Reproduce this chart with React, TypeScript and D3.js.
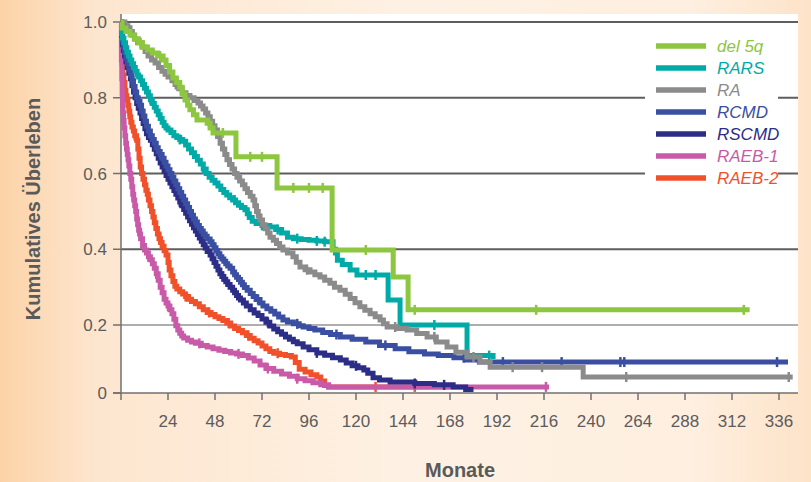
import { useEffect, useRef } from 'react';
import * as d3 from 'd3';

const WIDTH = 811;
const HEIGHT = 482;

const GROUPS = ['del 5q', 'RARS', 'RA', 'RCMD', 'RSCMD', 'RAEB-1', 'RAEB-2'];
const COLORS = ['#8dc63f', '#00aba7', '#8b8b8b', '#3a4fa2', '#2b2d87', '#c85aa8', '#f0512a'];

const X_TICKS = [0, 24, 48, 72, 96, 120, 144, 168, 192, 216, 240, 264, 288, 312, 336];
const Y_TICKS = [0, 0.2, 0.4, 0.6, 0.8, 1.0];
const Y_LABELS = ['0', '0.2', '0.4', '0.6', '0.8', '1.0'];

// Kaplan-Meier Stufen: [Monate, Überlebensanteil]; *_C = zensierte Zeitpunkte
const del5q = [[0, 1], [0.5, 0.984], [2.5, 0.975], [4.6, 0.966], [6.8, 0.955], [9, 0.945], [11, 0.934], [13.5, 0.926], [16, 0.918], [18.7, 0.91], [21.5, 0.9], [23, 0.885], [24.8, 0.868], [26.5, 0.852], [28.3, 0.84], [30, 0.828], [31.3, 0.81], [32.7, 0.794], [34, 0.78], [35.2, 0.768], [37, 0.755], [38.8, 0.741], [44, 0.733], [45.5, 0.72], [47, 0.707], [58.7, 0.644], [79.7, 0.562], [107.8, 0.398], [139, 0.327], [146.6, 0.24], [321, 0.24]];
const del5q_C = [10, 20, 45, 52, 66, 72, 88, 96, 103, 125, 150, 212, 318];

const rars = [[0, 1], [0.3, 0.97], [0.6, 0.958], [1.5, 0.945], [2.3, 0.932], [3, 0.92], [3.8, 0.91], [4.6, 0.9], [5.5, 0.89], [6.4, 0.88], [7.3, 0.87], [8.2, 0.86], [9, 0.855], [10, 0.845], [11, 0.835], [12, 0.825], [13, 0.815], [14, 0.805], [15, 0.795], [16, 0.785], [17, 0.775], [18, 0.765], [19, 0.755], [20, 0.745], [21, 0.735], [22, 0.726], [23, 0.72], [24, 0.715], [25.5, 0.708], [27, 0.7], [28.5, 0.695], [30, 0.69], [31.5, 0.685], [33, 0.675], [34.5, 0.665], [36, 0.655], [37.5, 0.645], [39, 0.635], [40.5, 0.625], [42, 0.612], [43.5, 0.6], [45, 0.59], [46.5, 0.582], [48, 0.575], [49.5, 0.567], [51, 0.558], [52.5, 0.55], [54, 0.543], [55.5, 0.536], [57, 0.53], [58.5, 0.523], [60, 0.516], [61.5, 0.51], [63.3, 0.504], [64.5, 0.494], [65.5, 0.484], [67, 0.474], [69, 0.468], [72, 0.463], [76, 0.459], [79, 0.452], [82, 0.443], [85, 0.432], [88, 0.428], [92, 0.426], [96, 0.424], [100, 0.422], [104, 0.42], [108.3, 0.4], [109.5, 0.39], [110.5, 0.371], [113, 0.36], [117, 0.345], [120.5, 0.332], [136.4, 0.266], [142.5, 0.2], [176.7, 0.11], [190, 0.1]];
const rars_C = [15, 30, 42, 58, 72, 80, 90, 100, 104, 125, 130, 160, 188];

const ra = [[0, 1], [2, 0.99], [3.5, 0.985], [4.6, 0.975], [5.8, 0.965], [7, 0.955], [8.5, 0.945], [10.7, 0.934], [12.3, 0.922], [13.8, 0.91], [15.6, 0.9], [17.4, 0.892], [19.2, 0.88], [20.9, 0.87], [22.5, 0.862], [24, 0.855], [26, 0.845], [27.6, 0.835], [29.5, 0.824], [31.2, 0.813], [33.2, 0.806], [35.2, 0.8], [37.3, 0.793], [39.3, 0.786], [40.6, 0.778], [41.9, 0.77], [43.2, 0.76], [44.4, 0.75], [45.6, 0.738], [46.8, 0.726], [48, 0.715], [49.3, 0.698], [50.6, 0.68], [51.8, 0.665], [53, 0.65], [54.1, 0.636], [55.4, 0.624], [56.7, 0.612], [58, 0.6], [59.2, 0.59], [60.6, 0.58], [62, 0.57], [63.3, 0.56], [64.6, 0.55], [66, 0.54], [67.4, 0.53], [68.3, 0.515], [69.2, 0.5], [70.1, 0.488], [71, 0.477], [72.3, 0.465], [73.6, 0.454], [74.9, 0.443], [76.1, 0.432], [77.8, 0.424], [79.4, 0.415], [81, 0.406], [82.7, 0.398], [85, 0.39], [87.8, 0.38], [89.5, 0.366], [91.4, 0.353], [94, 0.346], [96.5, 0.34], [99, 0.333], [101.6, 0.327], [104, 0.318], [106.7, 0.31], [109, 0.3], [111.8, 0.292], [114.5, 0.281], [117, 0.27], [119.5, 0.259], [122, 0.248], [124.5, 0.239], [127.2, 0.23], [129.8, 0.222], [132.3, 0.213], [134, 0.203], [135.9, 0.194], [141, 0.19], [146.1, 0.185], [151, 0.175], [156.3, 0.165], [161, 0.15], [166.5, 0.135], [171, 0.12], [176.7, 0.106], [183.3, 0.091], [188.5, 0.076], [236, 0.047], [343, 0.047]];
const ra_C = [5, 28, 60, 95, 140, 160, 180, 200, 215, 258, 341];

const rcmd = [[0, 1], [0.3, 0.97], [0.7, 0.95], [1.2, 0.935], [1.8, 0.92], [2.5, 0.905], [3.2, 0.89], [4, 0.875], [4.8, 0.86], [5.6, 0.845], [6.4, 0.83], [7.2, 0.815], [8, 0.8], [8.8, 0.79], [9.7, 0.78], [10.5, 0.765], [11.3, 0.752], [12.2, 0.738], [13, 0.725], [14, 0.712], [15, 0.7], [16, 0.69], [17, 0.68], [18, 0.668], [19, 0.658], [20, 0.65], [21, 0.64], [22, 0.63], [23, 0.62], [24, 0.61], [25, 0.6], [26, 0.59], [27, 0.58], [28, 0.57], [29, 0.56], [30, 0.55], [31, 0.54], [32, 0.53], [33, 0.52], [34, 0.51], [35, 0.5], [36, 0.49], [37, 0.48], [38, 0.472], [39, 0.463], [40, 0.455], [41, 0.448], [42, 0.44], [43, 0.434], [44, 0.427], [45.5, 0.42], [46.5, 0.412], [47.5, 0.404], [48.5, 0.396], [49.5, 0.388], [50.5, 0.38], [51.5, 0.374], [52.5, 0.368], [53.5, 0.362], [54.5, 0.356], [55.7, 0.35], [57, 0.34], [58, 0.333], [59, 0.326], [60, 0.32], [61, 0.313], [62, 0.306], [63, 0.299], [64.4, 0.292], [66, 0.283], [67.5, 0.275], [69, 0.267], [71, 0.258], [72.5, 0.25], [74.5, 0.243], [76.5, 0.236], [78.5, 0.229], [80.5, 0.221], [82.7, 0.213], [85, 0.208], [88, 0.203], [91, 0.198], [93, 0.194], [96, 0.19], [99, 0.185], [103, 0.178], [107, 0.172], [112, 0.165], [118, 0.158], [125, 0.15], [132, 0.14], [140, 0.13], [147, 0.121], [155, 0.115], [162, 0.11], [170, 0.104], [176, 0.097], [183, 0.091], [340.6, 0.091]];
const rcmd_C = [20, 38, 48, 70, 90, 110, 135, 175, 195, 225, 255, 257, 335];

const rscmd = [[0, 1], [0.3, 0.965], [0.7, 0.94], [1.2, 0.925], [1.8, 0.91], [2.5, 0.895], [3.2, 0.88], [4, 0.865], [4.8, 0.85], [5.6, 0.832], [6.4, 0.815], [7.2, 0.8], [8, 0.785], [8.8, 0.772], [9.7, 0.76], [10.5, 0.745], [11.3, 0.732], [12.2, 0.718], [13, 0.705], [14, 0.695], [15, 0.688], [16, 0.676], [17, 0.664], [18, 0.652], [19, 0.64], [20, 0.628], [21, 0.617], [22, 0.606], [23, 0.595], [24, 0.585], [25, 0.575], [26, 0.565], [27, 0.555], [28, 0.545], [29, 0.535], [30, 0.525], [31, 0.515], [32, 0.505], [33, 0.495], [34, 0.485], [35, 0.475], [36, 0.466], [37, 0.457], [38, 0.448], [39, 0.439], [40, 0.43], [41, 0.421], [42, 0.412], [43, 0.403], [44, 0.394], [45.5, 0.385], [46.5, 0.375], [47.5, 0.365], [48.5, 0.355], [49.5, 0.345], [50.5, 0.335], [51.5, 0.328], [52.5, 0.321], [53.5, 0.314], [54.5, 0.307], [55.7, 0.3], [57, 0.292], [58, 0.285], [59, 0.278], [60, 0.271], [61, 0.266], [62.5, 0.258], [64, 0.25], [66, 0.24], [68, 0.232], [70, 0.225], [72, 0.216], [74, 0.207], [76, 0.197], [78, 0.188], [80, 0.18], [82, 0.173], [84, 0.165], [86, 0.158], [88, 0.151], [90, 0.145], [93, 0.135], [96, 0.127], [100, 0.118], [104, 0.111], [108, 0.104], [112, 0.097], [115, 0.088], [118, 0.08], [121, 0.074], [124, 0.068], [126, 0.058], [128.7, 0.045], [132, 0.038], [137.4, 0.032], [150, 0.028], [160, 0.024], [169.6, 0.018], [176, 0.01], [180, 0.01]];
const rscmd_C = [12, 30, 52, 75, 100, 120, 150, 165];

const raeb1 = [[0, 1], [0.2, 0.9], [0.4, 0.85], [0.6, 0.81], [0.8, 0.78], [1, 0.76], [1.3, 0.74], [1.6, 0.72], [2, 0.7], [2.4, 0.68], [2.8, 0.665], [3.2, 0.65], [3.6, 0.636], [4, 0.62], [4.5, 0.6], [5, 0.585], [5.5, 0.565], [6, 0.545], [6.5, 0.53], [7, 0.515], [7.5, 0.5], [8, 0.48], [8.5, 0.465], [9, 0.45], [9.5, 0.44], [10, 0.428], [11, 0.41], [12, 0.398], [13, 0.39], [14, 0.38], [15, 0.372], [16, 0.362], [17, 0.35], [18, 0.335], [19, 0.318], [20, 0.3], [21, 0.285], [22, 0.268], [23, 0.258], [24, 0.25], [25, 0.24], [26, 0.23], [27, 0.215], [28, 0.198], [29, 0.185], [30, 0.176], [31, 0.168], [32, 0.162], [34, 0.155], [36, 0.15], [38, 0.146], [41, 0.14], [44, 0.135], [47, 0.13], [50, 0.126], [53, 0.122], [56, 0.118], [59, 0.115], [62, 0.11], [65, 0.103], [68, 0.094], [71, 0.082], [74, 0.072], [78, 0.064], [82, 0.056], [86, 0.049], [90, 0.042], [94, 0.036], [98, 0.03], [102, 0.024], [106, 0.018], [218.6, 0.018]];
const raeb1_C = [3, 6, 9, 14, 18, 24, 40, 60, 75, 90, 217];

const raeb2 = [[0, 1], [0.3, 0.93], [0.6, 0.89], [1, 0.86], [1.5, 0.84], [2, 0.82], [2.5, 0.805], [3, 0.794], [3.5, 0.78], [4, 0.765], [4.5, 0.75], [5, 0.735], [5.6, 0.723], [6.3, 0.712], [7, 0.7], [8, 0.688], [8.6, 0.665], [9.2, 0.64], [9.8, 0.617], [10.5, 0.6], [11.2, 0.585], [12, 0.57], [12.7, 0.556], [13.4, 0.545], [14, 0.53], [14.8, 0.515], [15.6, 0.5], [16.3, 0.485], [17, 0.47], [17.8, 0.455], [18.6, 0.44], [19.4, 0.428], [20.2, 0.418], [21, 0.408], [22, 0.396], [23, 0.385], [24, 0.365], [24.6, 0.345], [25.5, 0.33], [26.5, 0.315], [27.5, 0.302], [28.5, 0.295], [30, 0.288], [31.5, 0.282], [33, 0.275], [34.5, 0.268], [36, 0.262], [38, 0.256], [40, 0.248], [42, 0.24], [44, 0.233], [46, 0.228], [48, 0.222], [50, 0.217], [52, 0.212], [54, 0.205], [56, 0.197], [58, 0.19], [60, 0.184], [62, 0.177], [64, 0.169], [66, 0.161], [68, 0.154], [70, 0.147], [72, 0.138], [74, 0.13], [76, 0.122], [78, 0.117], [81, 0.113], [84, 0.11], [87, 0.106], [89, 0.09], [91, 0.07], [94, 0.062], [97, 0.054], [100, 0.047], [102, 0.035], [104, 0.022], [106, 0.018], [168, 0.018]];
const raeb2_C = [4, 7, 11, 15, 20, 33, 45, 55, 65, 80, 130, 150];

const SERIES = [
  { pts: del5q, cens: del5q_C },
  { pts: rars, cens: rars_C },
  { pts: ra, cens: ra_C },
  { pts: rcmd, cens: rcmd_C },
  { pts: rscmd, cens: rscmd_C },
  { pts: raeb1, cens: raeb1_C },
  { pts: raeb2, cens: raeb2_C },
];

const DRAW_ORDER = [6, 5, 4, 3, 1, 2, 0];

export default function App() {
  const svgRef = useRef<SVGSVGElement>(null);

  useEffect(() => {
    if (!svgRef.current) return;
    const svg = d3.select(svgRef.current);
    svg.selectAll('*').remove();

    const x = d3.scaleLinear().domain([0, 336]).range([121, 779]);
    const y = d3.scaleLinear().domain([0, 0.2, 1]).range([393, 325, 22]);
    const right = 798;

    // Hintergrund
    const defs = svg.append('defs');
    const grad = defs.append('linearGradient').attr('id', 'bg').attr('x1', '0').attr('x2', '1').attr('y1', '0').attr('y2', '0');
    grad.append('stop').attr('offset', '0').attr('stop-color', '#fcd3a8');
    grad.append('stop').attr('offset', '0.12').attr('stop-color', '#fde6cf');
    grad.append('stop').attr('offset', '0.5').attr('stop-color', '#fef1e3');
    grad.append('stop').attr('offset', '0.85').attr('stop-color', '#feefe0');
    grad.append('stop').attr('offset', '1').attr('stop-color', '#fde3c8');
    svg.append('rect').attr('width', WIDTH).attr('height', HEIGHT).attr('fill', 'url(#bg)');

    svg.append('rect')
      .attr('x', x(0)).attr('y', 14)
      .attr('width', right - x(0)).attr('height', y(0) - 14)
      .attr('fill', '#ffffff');

    // Gitterlinien
    svg.append('g')
      .selectAll('line')
      .data(Y_TICKS.filter(d => d > 0))
      .join('line')
      .attr('x1', x(0)).attr('x2', right)
      .attr('y1', d => y(d)).attr('y2', d => y(d))
      .attr('stroke', '#5e5e5e')
      .attr('stroke-width', d => (d === 0.2 ? 1.2 : 2));

    // Legendenhintergrund
    svg.append('rect').attr('x', 645).attr('y', 33).attr('width', 133).attr('height', 158).attr('fill', '#ffffff');

    // Achsen
    svg.append('line').attr('x1', x(0)).attr('x2', x(0)).attr('y1', 14).attr('y2', y(0))
      .attr('stroke', '#707070').attr('stroke-width', 1.5);
    svg.append('line').attr('x1', x(0) - 8).attr('x2', right).attr('y1', y(0)).attr('y2', y(0))
      .attr('stroke', '#707070').attr('stroke-width', 1.5);

    svg.append('g').selectAll('line').data(Y_TICKS).join('line')
      .attr('x1', x(0) - 8).attr('x2', x(0))
      .attr('y1', d => y(d)).attr('y2', d => y(d))
      .attr('stroke', '#707070').attr('stroke-width', 1.5);

    svg.append('g').selectAll('line').data(X_TICKS).join('line')
      .attr('x1', d => x(d)).attr('x2', d => x(d))
      .attr('y1', y(0)).attr('y2', y(0) + 7)
      .attr('stroke', '#707070').attr('stroke-width', 1.5);

    const tickFont = "'Liberation Sans', Arial, sans-serif";
    svg.append('g').selectAll('text').data(Y_TICKS).join('text')
      .attr('x', 107).attr('y', d => y(d) + 6)
      .attr('text-anchor', 'end')
      .style('font-family', tickFont).style('font-size', '17px').style('fill', '#5c5c5c')
      .text((d, i) => Y_LABELS[i]);

    svg.append('g').selectAll('text').data(X_TICKS.filter(d => d > 0)).join('text')
      .attr('x', d => x(d)).attr('y', 427)
      .attr('text-anchor', 'middle')
      .style('font-family', tickFont).style('font-size', '17px').style('fill', '#5c5c5c')
      .text(d => d);

    svg.append('text')
      .attr('x', 460).attr('y', 477)
      .attr('text-anchor', 'middle')
      .style('font-family', tickFont).style('font-size', '20px').style('font-weight', 'bold').style('fill', '#5a5a5a')
      .text('Monate');

    svg.append('text')
      .attr('transform', 'translate(40, 209) rotate(-90)')
      .attr('text-anchor', 'middle')
      .style('font-family', tickFont).style('font-size', '20px').style('font-weight', 'bold').style('fill', '#5a5a5a')
      .text('Kumulatives Überleben');

    // Kurven
    const line = d3.line<number[]>()
      .x(d => x(d[0]))
      .y(d => y(d[1]))
      .curve(d3.curveStepAfter);

    const survAt = (pts: number[][], time: number) => {
      const i = d3.bisectRight(pts.map(p => p[0]), time) - 1;
      return pts[Math.max(0, i)][1];
    };

    const curves = svg.append('g');
    DRAW_ORDER.forEach(k => {
      const sr = SERIES[k];
      curves.append('path')
        .attr('d', line(sr.pts))
        .attr('fill', 'none')
        .attr('stroke', COLORS[k])
        .attr('stroke-width', 5)
        .attr('stroke-linejoin', 'miter');
      curves.append('g').selectAll('line').data(sr.cens).join('line')
        .attr('x1', d => x(d)).attr('x2', d => x(d))
        .attr('y1', d => y(survAt(sr.pts, d)) - 5)
        .attr('y2', d => y(survAt(sr.pts, d)) + 5)
        .attr('stroke', COLORS[k])
        .attr('stroke-width', 2.5);
    });

    // Legende
    const legend = svg.append('g');
    GROUPS.forEach((g, i) => {
      const ly = 46 + i * 22;
      legend.append('line')
        .attr('x1', 656).attr('x2', 706).attr('y1', ly).attr('y2', ly)
        .attr('stroke', COLORS[i]).attr('stroke-width', 5.5);
      legend.append('text')
        .attr('x', 717).attr('y', ly + 6)
        .style('font-family', "'Liberation Sans Narrow', 'Liberation Sans', Arial, sans-serif")
        .style('font-size', '17px').style('font-style', 'italic')
        .style('fill', COLORS[i])
        .text(g);
    });
  }, []);

  return (
    <div style={{ position: 'absolute', left: 0, top: 0, width: WIDTH, height: HEIGHT }}>
      <svg ref={svgRef} width={WIDTH} height={HEIGHT} style={{ display: 'block' }} />
    </div>
  );
}
